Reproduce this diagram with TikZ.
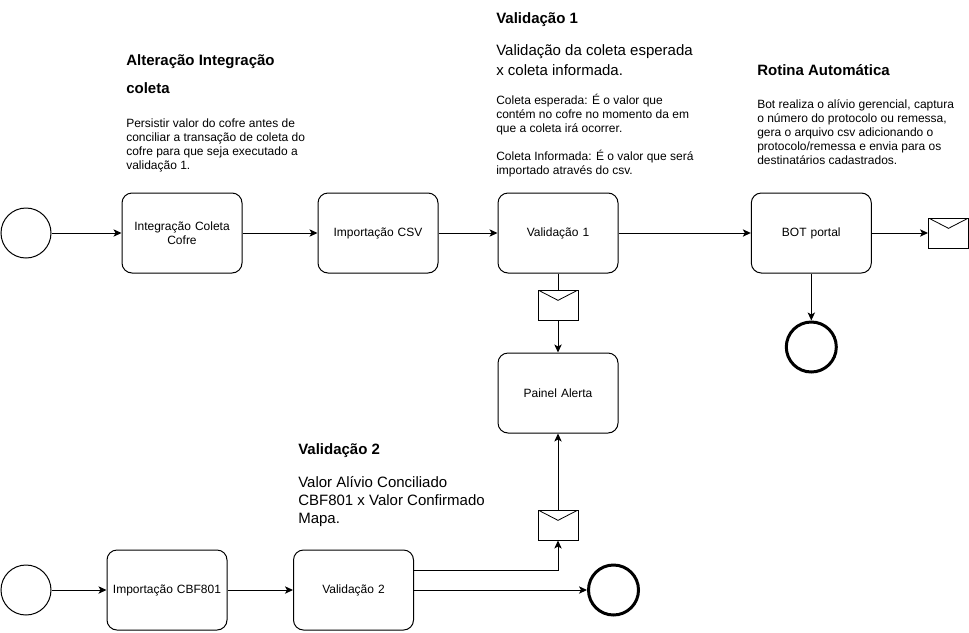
\documentclass[tikz,border=0pt]{standalone}
\usepackage{fontspec}
\setmainfont{Liberation Sans}
\usetikzlibrary{arrows.meta,positioning,calc}
\newcommand{\smalltxt}{\fontsize{9}{10.5}\selectfont}
\newcommand{\largetxt}{\fontsize{11.25}{13.5}\selectfont}
\newcommand{\headtxt}{\fontsize{11.25}{13.5}\selectfont\bfseries}
\tikzset{
  task/.style={draw=black,fill=white,rounded corners=7.5pt,line width=0.75pt,minimum width=90pt,minimum height=60pt,inner sep=1pt,align=center,text width=84pt,font=\smalltxt},
  startevent/.style={draw=black,fill=white,circle,line width=0.75pt,minimum size=37.5pt,inner sep=0pt},
  endevent/.style={draw=black,fill=white,circle,line width=2.25pt,minimum size=37.5pt,inner sep=0pt},
  envelope/.style={draw=black,fill=white,line width=0.75pt,minimum width=30pt,minimum height=22.5pt,inner sep=0pt,
    path picture={\draw[line width=0.6pt] (path picture bounding box.north west) -- ($(path picture bounding box.center)+(0,3.5pt)$) -- (path picture bounding box.north east);}},
  note/.style={anchor=north west,inner sep=0pt,align=left,font=\smalltxt},
  line/.style={-{Stealth[length=6pt,width=5.5pt,inset=1.5pt]},line width=0.75pt,color=black},
  plainline/.style={line width=0.75pt,color=black}
}
\begin{document}
\begin{tikzpicture}[x=0.75pt,y=-0.75pt]
  \useasboundingbox (0,0) rectangle (969,632);
  % upper lane
  \node[startevent] (startum) at (26,233) {};
  \node[task] (coleta) at (182,233) {Integração Coleta\\Cofre};
  \node[task] (csv) at (378,233) {Importação CSV};
  \node[task] (valum) at (558,233) {Validação 1};
  \node[task] (bot) at (811.3,233) {BOT portal};
  \node[envelope] (mailbot) at (948.5,233) {};
  \node[endevent] (endbot) at (811.3,347) {};
  \node[envelope] (mailum) at (558,305) {};
  \node[task] (painel) at (558,393) {Painel Alerta};
  % lower lane
  \node[startevent] (startdois) at (26,590) {};
  \node[task] (cbf) at (167,590) {Importação CBF801};
  \node[task] (valdois) at (353.5,590) {Validação 2};
  \node[endevent] (enddois) at (613.5,590) {};
  \node[envelope] (maildois) at (558,525) {};
  \coordinate (mailtap) at (558,570);
  \draw[line] (startum) -- (coleta);
  \draw[line] (coleta) -- (csv);
  \draw[line] (csv) -- (valum);
  \draw[line] (valum) -- (bot);
  \draw[line] (bot) -- (mailbot);
  \draw[line] (bot) -- (endbot);
  \draw[plainline] (valum) -- (mailum);
  \draw[line] (mailum) -- (painel);
  \draw[line] (startdois) -- (cbf);
  \draw[line] (cbf) -- (valdois);
  \draw[line] (valdois) -- (enddois);
  \draw[line] (valdois.east |- mailtap) -- (mailtap) -- (maildois);
  \draw[line] (maildois) -- (painel);
  % notes
  \node[note] (txtcoleta) at (126,54) {{\headtxt Alteração Integração}\\[9.75pt]{\headtxt coleta}\\[15.25pt]Persistir valor do cofre antes de\\conciliar a transação de coleta do\\cofre para que seja executado a\\validação 1.};
  \node[note] (txtvalum) at (496,12) {{\headtxt Validação 1}\\[14pt]{\largetxt Validação da coleta esperada}\\[3pt]{\largetxt x coleta informada.}\\[11.75pt]Coleta esperada: É o valor que\\contém no cofre no momento da em\\que a coleta irá ocorrer.\\[10.5pt]Coleta Informada: É o valor que será\\importado através do csv.};
  \node[note] (txtbot) at (757,64) {{\headtxt Rotina Automática}\\[14.75pt]Bot realiza o alívio gerencial, captura\\o número do protocolo ou remessa,\\gera o arquivo csv adicionando o\\protocolo/remessa e envia para os\\destinatários cadastrados.};
  \node[note] (txtvaldois) at (298,443) {{\headtxt Validação 2}\\[13.25pt]{\largetxt Valor Alívio Conciliado}\\[3pt]{\largetxt CBF801 x Valor Confirmado}\\[3pt]{\largetxt Mapa.}};
\end{tikzpicture}
\end{document}
